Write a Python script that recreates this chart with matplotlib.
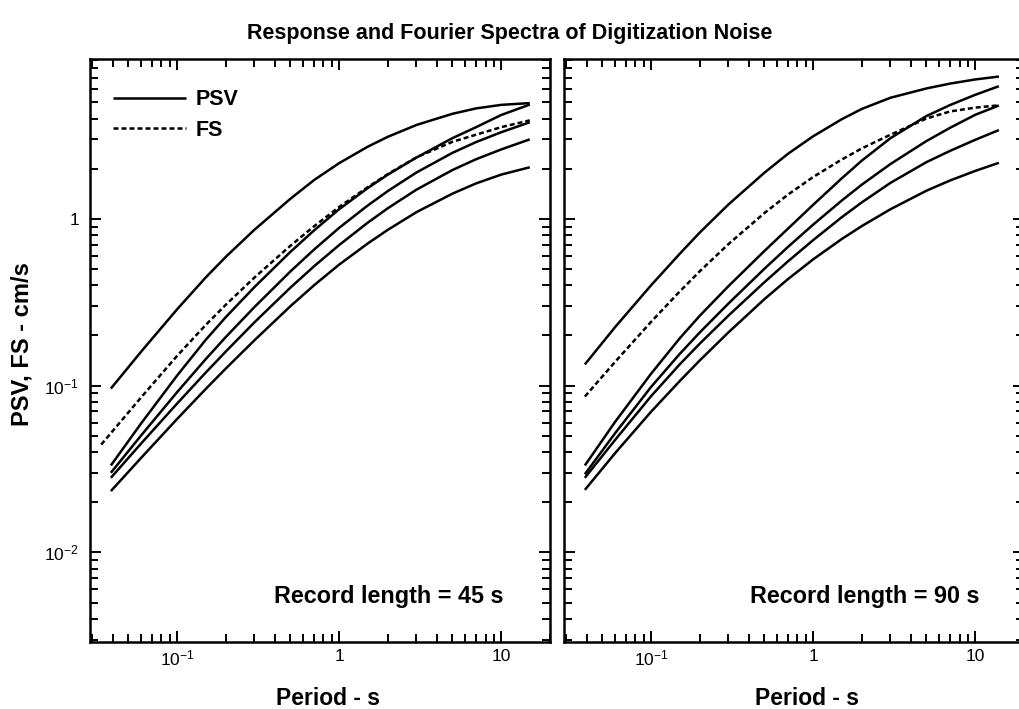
import matplotlib
matplotlib.use("Agg")
import matplotlib.pyplot as plt
from matplotlib.ticker import LogLocator, FixedLocator, NullFormatter

plt.rcParams['font.family'] = ['Liberation Sans', 'DejaVu Sans']
plt.rcParams['mathtext.fontset'] = 'custom'
plt.rcParams['mathtext.rm'] = 'Liberation Sans'
plt.rcParams['mathtext.bf'] = 'Liberation Sans:bold'

# ---------------- data ----------------
periods_45 = [0.039, 0.06, 0.1, 0.15, 0.2, 0.3, 0.5, 0.7, 1.0, 1.5, 2.0, 3.0, 5.0, 7.0, 10.0, 15.0]
periods_fs45 = [0.034, 0.06, 0.1, 0.15, 0.2, 0.3, 0.5, 0.7, 1.0, 1.5, 2.0, 3.0, 5.0, 7.0, 10.0, 15.0]
periods_90 = [0.039, 0.06, 0.1, 0.15, 0.2, 0.3, 0.5, 0.7, 1.0, 1.5, 2.0, 3.0, 5.0, 7.0, 10.0, 14.0]

# Record length = 45 s  (PSV curves, top to bottom, and FS)
psv45_a = [0.096, 0.16, 0.287, 0.445, 0.593, 0.861, 1.32, 1.71, 2.16, 2.71, 3.11, 3.66, 4.27, 4.6, 4.83, 4.95]
psv45_b = [0.0332, 0.0594, 0.115, 0.188, 0.258, 0.390, 0.634, 0.853, 1.143, 1.53, 1.845, 2.334, 3.05, 3.55, 4.2, 4.85]
psv45_c = [0.030, 0.0503, 0.0914, 0.144, 0.196, 0.296, 0.484, 0.655, 0.884, 1.203, 1.471, 1.899, 2.49, 2.89, 3.31, 3.8]
psv45_d = [0.028, 0.045, 0.0781, 0.1196, 0.1604, 0.2397, 0.387, 0.52, 0.697, 0.949, 1.16, 1.498, 1.964, 2.28, 2.61, 3.0]
psv45_e = [0.0233, 0.0369, 0.0631, 0.0954, 0.1268, 0.1871, 0.2994, 0.40, 0.532, 0.712, 0.861, 1.098, 1.417, 1.633, 1.844, 2.04]
fs45 = [0.0443, 0.0851, 0.1509, 0.231, 0.306, 0.445, 0.69, 0.903, 1.18, 1.55, 1.86, 2.34, 2.9, 3.2, 3.55, 3.9]

# Record length = 90 s
psv90_a = [0.134, 0.2247, 0.400, 0.617, 0.830, 1.22, 1.892, 2.46, 3.13, 3.96, 4.57, 5.33, 6.06, 6.48, 6.86, 7.14]
psv90_b = [0.0332, 0.0607, 0.118, 0.192, 0.263, 0.395, 0.642, 0.875, 1.215, 1.75, 2.24, 3.05, 4.14, 4.82, 5.55, 6.25]
psv90_c = [0.0294, 0.0519, 0.0983, 0.1548, 0.2088, 0.3107, 0.502, 0.680, 0.924, 1.288, 1.607, 2.134, 2.93, 3.52, 4.21, 4.79]
psv90_d = [0.028, 0.0473, 0.0865, 0.134, 0.179, 0.263, 0.417, 0.557, 0.746, 1.023, 1.258, 1.645, 2.19, 2.56, 2.98, 3.41]
psv90_e = [0.0237, 0.0394, 0.0698, 0.1064, 0.1419, 0.2086, 0.330, 0.436, 0.572, 0.757, 0.907, 1.143, 1.476, 1.70, 1.94, 2.17]
fs90 = [0.086, 0.139, 0.2415, 0.3666, 0.486, 0.706, 1.084, 1.40, 1.784, 2.27, 2.65, 3.2, 4.0, 4.41, 4.65, 4.8]

panel_notes = ["Record length = 45 s", "Record length = 90 s"]
x_ticks = [0.1, 1, 10]
x_tick_labels = [r"$\mathregular{10^{-1}}$", "1", "10"]
y_ticks = [0.01, 0.1, 1]
y_tick_labels = [r"$\mathregular{10^{-2}}$", r"$\mathregular{10^{-1}}$", "1"]

# ---------------- figure ----------------
W, H = 1019, 709
fig = plt.figure(figsize=(W / 100, H / 100), dpi=100)
fig.patch.set_facecolor('white')

bottom = 1 - 642 / H
height = (642 - 59) / H
ax1 = fig.add_axes([90 / W, bottom, 460 / W, height])
ax2 = fig.add_axes([564 / W, bottom, 460 / W, height])

lw = 1.8
dash = (0, (2.0, 1.2))

panels = [
    (ax1, periods_45, [psv45_a, psv45_b, psv45_c, psv45_d, psv45_e], periods_fs45, fs45),
    (ax2, periods_90, [psv90_a, psv90_b, psv90_c, psv90_d, psv90_e], periods_90, fs90),
]

for i, (ax, per, psvs, per_fs, fs) in enumerate(panels):
    for k, v in enumerate(psvs):
        ax.plot(per, v, color='black', lw=lw, solid_capstyle='butt',
                solid_joinstyle='round', label='PSV' if k == 0 else None)
    ax.plot(per_fs, fs, color='black', lw=lw, linestyle=dash, label='FS')

    ax.set_xscale('log')
    ax.set_yscale('log')
    ax.set_xlim(0.029, 20)
    ax.set_ylim(0.0029, 9.1)

    ax.xaxis.set_major_locator(FixedLocator(x_ticks))
    ax.yaxis.set_major_locator(FixedLocator(y_ticks))
    ax.xaxis.set_minor_locator(LogLocator(base=10, subs=range(2, 10), numticks=20))
    ax.yaxis.set_minor_locator(LogLocator(base=10, subs=range(2, 10), numticks=20))
    ax.xaxis.set_minor_formatter(NullFormatter())
    ax.yaxis.set_minor_formatter(NullFormatter())
    ax.set_xticklabels(x_tick_labels)
    if i == 0:
        ax.set_yticklabels(y_tick_labels)
    else:
        ax.set_yticklabels([])

    ax.tick_params(which='both', direction='in', top=True, right=True,
                   width=1.4, labelsize=12.5)
    ax.tick_params(axis='x', which='both', pad=5)
    ax.tick_params(axis='y', which='both', pad=8)
    ax.tick_params(which='major', length=8)
    ax.tick_params(which='minor', length=5.5)
    for sp in ax.spines.values():
        sp.set_linewidth(1.8)

    ax.text(0.898 if i == 0 else 0.904, 0.067, panel_notes[i], transform=ax.transAxes,
            ha='right', va='baseline', fontsize=16.8, fontweight='bold')

ax1.legend(loc='upper left', bbox_to_anchor=(0.05, 0.948), frameon=False,
           handlelength=3.4, borderaxespad=0, borderpad=0,
           prop={'weight': 'bold', 'size': 15.5}, labelspacing=0.45,
           handletextpad=0.45)

# axis labels and title
fig.text(328 / W, 1 - 705 / H, "Period - s", ha='center', va='baseline',
         fontsize=16.5, fontweight='bold')
fig.text(807 / W, 1 - 705 / H, "Period - s", ha='center', va='baseline',
         fontsize=16.5, fontweight='bold')
fig.text(22 / W, 1 - 344 / H, "PSV, FS - cm/s", ha='center', va='center',
         rotation=90, fontsize=17, fontweight='bold')
fig.text(510 / W, 1 - 33 / H, "Response and Fourier Spectra of Digitization Noise",
         ha='center', va='center', fontsize=15.5, fontweight='bold')

fig.savefig("out.png", dpi=100, facecolor='white')
